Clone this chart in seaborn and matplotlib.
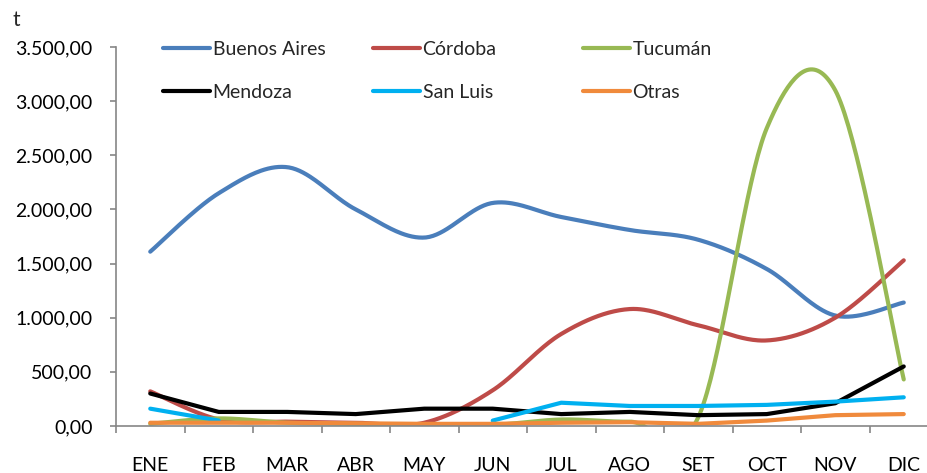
import numpy as np
import pandas as pd
import matplotlib
matplotlib.use("Agg")
import matplotlib.pyplot as plt
from matplotlib.lines import Line2D
import seaborn as sns

months = ["ENE", "FEB", "MAR", "ABR", "MAY", "JUN", "JUL", "AGO", "SET", "OCT", "NOV", "DIC"]
buenos_aires = [1610, 2150, 2390, 2000, 1740, 2060, 1930, 1810, 1720, 1450, 1020, 1140]
cordoba = [320, 60, 40, 30, 30, 330, 850, 1080, 930, 790, 1000, 1530]
tucuman = [20, 70, 30, 20, 10, 10, 60, 40, 80, 2750, 3100, 430]
mendoza = [300, 130, 130, 110, 160, 160, 110, 130, 100, 110, 210, 550]
san_luis = [160, 50, np.nan, np.nan, np.nan, 50, 215, 185, 185, 195, 225, 265]
otras = [30, 30, 30, 25, 20, 20, 30, 35, 20, 50, 100, 110]

series = [
    ("Buenos Aires", buenos_aires, "#4A7EBB", True),
    ("Córdoba", cordoba, "#BE4B48", True),
    ("Tucumán", tucuman, "#98B954", True),
    ("Mendoza", mendoza, "#000000", False),
    ("San Luis", san_luis, "#00B0F0", False),
    ("Otras", otras, "#F08A3C", False),
]

sns.set_theme(style="white")
plt.rcParams["font.family"] = ["Lato", "DejaVu Sans"]


def runs(vals):
    idx = np.arange(len(vals), dtype=float)
    v = np.asarray(vals, dtype=float)
    out, cur = [], []
    for i, y in zip(idx, v):
        if np.isnan(y):
            if cur:
                out.append(cur)
            cur = []
        else:
            cur.append((i, y))
    if cur:
        out.append(cur)
    return out


def bezier_path(pts, n=40):
    # Excel-style smoothing: cubic Bezier through the points
    P = np.array(pts, dtype=float)
    if len(P) < 3:
        return P[:, 0], P[:, 1]
    xs, ys = [], []
    for i in range(len(P) - 1):
        p0 = P[max(i - 1, 0)]
        p1 = P[i]
        p2 = P[i + 1]
        p3 = P[min(i + 2, len(P) - 1)]
        c1 = p1 + (p2 - p0) / 6.0
        c2 = p2 - (p3 - p1) / 6.0
        t = np.linspace(0, 1, n)[:, None]
        b = ((1 - t) ** 3) * p1 + 3 * ((1 - t) ** 2) * t * c1 + 3 * (1 - t) * t ** 2 * c2 + t ** 3 * p2
        xs.extend(b[:, 0])
        ys.extend(b[:, 1])
    return np.array(xs), np.array(ys)


fig = plt.figure(figsize=(9.27, 4.73), dpi=100)
ax = fig.add_axes([116 / 927, 1 - 426 / 473, (938 - 116) / 927, (426 - 47) / 473])

handles = {}
for name, vals, color, smooth in series:
    for run in runs(vals):
        if smooth:
            x, y = bezier_path(run)
        else:
            arr = np.array(run)
            x, y = arr[:, 0], arr[:, 1]
        df = pd.DataFrame({"x": x, "y": y})
        sns.lineplot(data=df, x="x", y="y", sort=False, estimator=None, color=color,
                     lw=3.0, ax=ax, solid_capstyle="round", solid_joinstyle="round")
    handles[name] = Line2D([], [], color=color, lw=3.0)

ax.set_xlim(-0.5, 11.5)
ax.set_ylim(0, 3500)
ax.set_xlabel("")
ax.set_ylabel("")

ax.set_xticks(np.arange(-0.5, 12, 1.0))
ax.set_xticklabels([])
ax.set_xticks(np.arange(12), minor=True)
ax.set_xticklabels(months, minor=True)
ax.set_yticks(np.arange(0, 3501, 500))
ax.set_yticklabels([f"{v:,.2f}".replace(",", "X").replace(".", ",").replace("X", ".") for v in np.arange(0, 3501, 500)])

axis_col = "#868686"
for s in ["top", "right"]:
    ax.spines[s].set_visible(False)
for s in ["left", "bottom"]:
    ax.spines[s].set_color(axis_col)
    ax.spines[s].set_linewidth(1.2)

ax.tick_params(axis="x", which="major", direction="out", length=5, width=1.2, color=axis_col, bottom=True)
ax.tick_params(axis="x", which="minor", length=0, pad=22, labelsize=14, colors="black", bottom=True)
ax.tick_params(axis="y", which="major", direction="out", length=4, width=1.2, color=axis_col,
               pad=13, labelsize=14, labelcolor="black", left=True)
ax.grid(False)

fig.text(16 / 927, 1 - 20 / 473, "t", fontsize=15, ha="center", va="center")

cols = [("Buenos Aires", "Mendoza"), ("Córdoba", "San Luis"), ("Tucumán", "Otras")]
xpos = [163, 373, 583]
for (a, b), xp in zip(cols, xpos):
    leg = fig.legend([handles[a], handles[b]], [a, b], loc="upper left",
                     bbox_to_anchor=(xp / 927, 1 - 41 / 473), frameon=False, fontsize=14,
                     handlelength=2.4, handletextpad=0.15, labelspacing=1.35,
                     borderpad=0, borderaxespad=0)

fig.savefig("out.png", dpi=100)
